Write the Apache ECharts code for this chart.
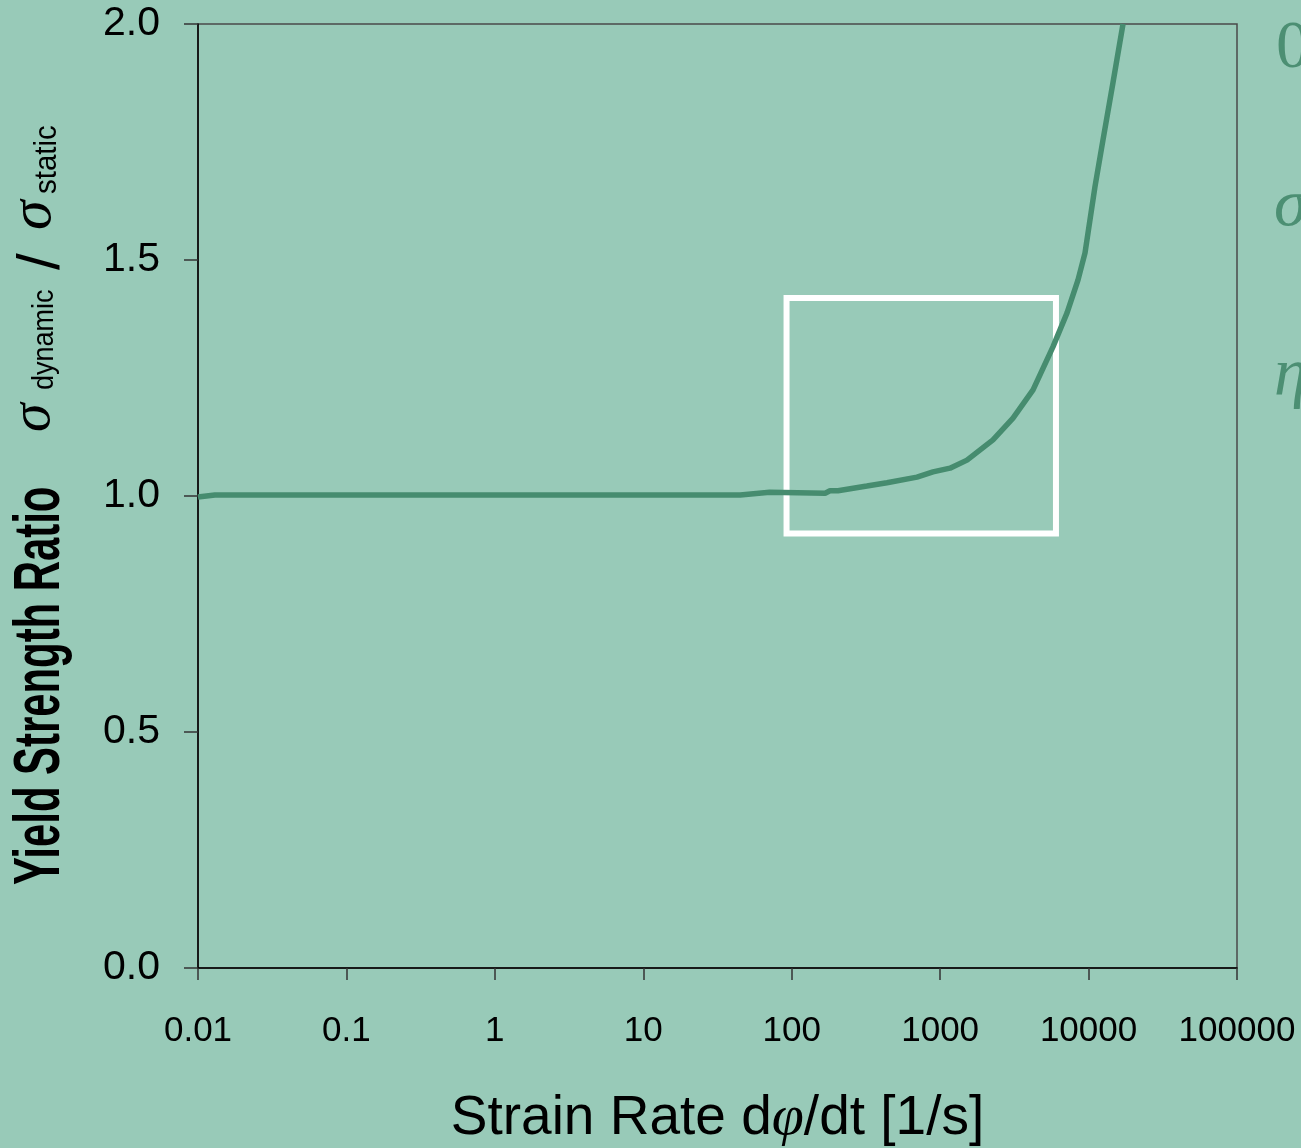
<!DOCTYPE html>
<html>
<head>
<meta charset="utf-8">
<script src="https://cdn.jsdelivr.net/npm/echarts@6/dist/echarts.min.js"></script>
<style>
html,body{margin:0;padding:0;background:#98CAB8;}
#chart{width:1301px;height:1148px;}
</style>
</head>
<body>
<div id="chart"></div>
<script>
// ---- data ----
const strainRate = [0.01, 0.013, 45, 71, 168, 181, 205, 321, 438, 698, 895, 1165, 1517, 2270, 3097, 4226, 5754, 7161, 8492, 9465, 9910, 11040, 12500, 14590, 17060];
const ratio      = [0.998, 1.002, 1.002, 1.008, 1.006, 1.011, 1.011, 1.021, 1.028, 1.040, 1.051, 1.059, 1.076, 1.119, 1.165, 1.225, 1.316, 1.388, 1.458, 1.515, 1.557, 1.655, 1.754, 1.875, 2.0];
const xTickLabels = ['0.01', '0.1', '1', '10', '100', '1000', '10000', '100000'];
const yTickLabels = ['0.0', '0.5', '1.0', '1.5', '2.0'];
const boxX = [92.3, 6030];
const boxY = [0.9206, 1.4195];

const lineColor = '#468C6F';
const chart = echarts.init(document.getElementById('chart'));
const seriesData = strainRate.map((x, i) => [x, ratio[i]]);
const R = Math.PI / 2;

chart.setOption({
  backgroundColor: '#98CAB8',
  animation: false,
  grid: {left: 198, right: 64, top: 24, bottom: 180, containLabel: false, outerBoundsMode: 'none',
         show: true, borderColor: '#4a4a4a', borderWidth: 1.5, backgroundColor: 'transparent'},
  xAxis: {
    type: 'log', logBase: 10, min: 0.01, max: 100000, splitNumber: 7,
    name: '{n|Strain Rate d}{p|φ}{n|/dt [1/s]}',
    nameLocation: 'middle', nameGap: 122,
    nameTextStyle: {rich: {
      n: {fontFamily: 'Liberation Sans', fontSize: 55, color: '#000'},
      p: {fontFamily: 'Liberation Serif', fontStyle: 'italic', fontSize: 58, color: '#000'}
    }},
    axisLine: {lineStyle: {color: '#000', width: 1.5}},
    axisTick: {show: true, length: 12, lineStyle: {color: '#333', width: 1.5}},
    minorTick: {show: false},
    splitLine: {show: false},
    axisLabel: {
      margin: 46, fontFamily: 'Liberation Sans', fontSize: 35, color: '#000',
      formatter: v => xTickLabels[Math.round(Math.log10(v)) + 2]
    }
  },
  yAxis: {
    type: 'value', min: 0, max: 2, interval: 0.5,
    axisLine: {show: true, lineStyle: {color: '#000', width: 1.5}},
    axisTick: {show: true, length: 14, lineStyle: {color: '#333', width: 1.5}},
    splitLine: {show: false},
    axisLabel: {
      margin: 38, fontFamily: 'Liberation Sans', fontSize: 41, color: '#000',
      padding: [6, 0, 0, 0],
      formatter: v => yTickLabels[Math.round(v / 0.5)]
    }
  },
  series: [{
    type: 'line', data: seriesData, showSymbol: false, symbol: 'none',
    lineStyle: {color: lineColor, width: 5.5}, clip: true, z: 3,
    markArea: {
      silent: true,
      itemStyle: {color: 'rgba(0,0,0,0)', borderColor: '#ffffff', borderWidth: 6},
      data: [[{xAxis: boxX[0], yAxis: boxY[0]}, {xAxis: boxX[1], yAxis: boxY[1]}]]
    }
  }],
  graphic: [
    {type: 'text', x: 41, y: 885, rotation: R, scaleX: 0.654,
     style: {text: 'Yield Strength Ratio', fontFamily: 'Liberation Sans', fontWeight: 'bold', fontSize: 64, fill: '#000', align: 'left', verticalAlign: 'middle'}},
    {type: 'text', x: 34, y: 432, rotation: R,
     style: {text: 'σ', fontFamily: 'Liberation Serif', fontStyle: 'italic', fontSize: 58, fill: '#000', align: 'left', verticalAlign: 'middle'}},
    {type: 'text', x: 45, y: 390, rotation: R, scaleX: 0.9,
     style: {text: 'dynamic', fontFamily: 'Liberation Sans', fontSize: 30, fill: '#000', align: 'left', verticalAlign: 'middle'}},
    {type: 'text', x: 42, y: 270, rotation: R,
     style: {text: '/', fontFamily: 'Liberation Sans', fontSize: 60, fill: '#000', align: 'left', verticalAlign: 'middle'}},
    {type: 'text', x: 34, y: 230, rotation: R,
     style: {text: 'σ', fontFamily: 'Liberation Serif', fontStyle: 'italic', fontSize: 60, fill: '#000', align: 'left', verticalAlign: 'middle'}},
    {type: 'text', x: 47, y: 194, rotation: R, scaleX: 0.95,
     style: {text: 'static', fontFamily: 'Liberation Sans', fontSize: 31, fill: '#000', align: 'left', verticalAlign: 'middle'}},
    {type: 'text', x: 1276, y: 49,
     style: {text: '0', fontFamily: 'Liberation Serif', fontSize: 68, fill: '#4C8F73', align: 'left', verticalAlign: 'middle'}},
    {type: 'text', x: 1274, y: 207,
     style: {text: 'σ', fontFamily: 'Liberation Serif', fontStyle: 'italic', fontSize: 68, fill: '#4C8F73', align: 'left', verticalAlign: 'middle'}},
    {type: 'text', x: 1274, y: 377,
     style: {text: 'η', fontFamily: 'Liberation Serif', fontStyle: 'italic', fontSize: 68, fill: '#4C8F73', align: 'left', verticalAlign: 'middle'}}
  ]
});
</script>
</body>
</html>
